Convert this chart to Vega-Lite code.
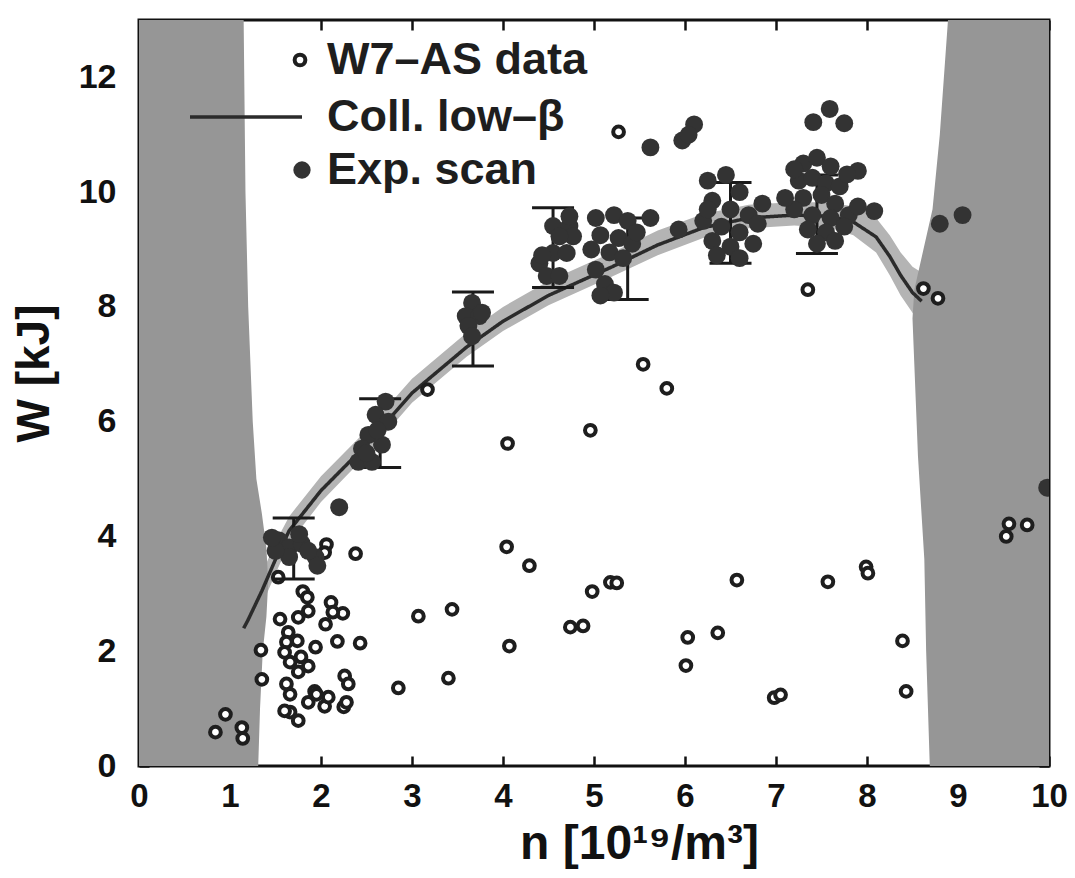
{
  "$schema": "https://vega.github.io/schema/vega-lite/v6.json",
  "width": 910,
  "height": 746,
  "autosize": {"type": "none"},
  "padding": {"left": 139, "top": 20, "right": 26, "bottom": 112},
  "background": "white",
  "config": {
    "view": {"stroke": "#111111", "strokeWidth": 3},
    "font": "Liberation Sans"
  },
  "datasets": {
    "leftband": [
      {"W": 0, "edge": 1.31}, {"W": 1.0, "edge": 1.33}, {"W": 2.0, "edge": 1.36}, {"W": 2.6, "edge": 1.4},
      {"W": 3.2, "edge": 1.42}, {"W": 3.8, "edge": 1.4}, {"W": 4.4, "edge": 1.35}, {"W": 5.0, "edge": 1.29},
      {"W": 6.0, "edge": 1.25}, {"W": 8.0, "edge": 1.2}, {"W": 10.0, "edge": 1.17}, {"W": 13.0, "edge": 1.15}
    ],
    "rightband": [
      {"W": 0, "edge": 8.69}, {"W": 2.0, "edge": 8.65}, {"W": 3.6, "edge": 8.63}, {"W": 5.4, "edge": 8.56},
      {"W": 7.0, "edge": 8.52}, {"W": 7.8, "edge": 8.5}, {"W": 8.3, "edge": 8.52}, {"W": 9.0, "edge": 8.62},
      {"W": 9.7, "edge": 8.72}, {"W": 11.0, "edge": 8.8}, {"W": 13.0, "edge": 8.89}
    ],
    "curve": [
      {"n": 1.15, "W": 2.4, "lo": 2.2, "hi": 2.7, "model": "Coll. low–β"},
      {"n": 1.2, "W": 2.55, "lo": 2.3, "hi": 2.85, "model": "Coll. low–β"},
      {"n": 1.35, "W": 3.05, "lo": 2.8, "hi": 3.35, "model": "Coll. low–β"},
      {"n": 1.5, "W": 3.6, "lo": 3.35, "hi": 3.9, "model": "Coll. low–β"},
      {"n": 1.65, "W": 4.1, "lo": 3.88, "hi": 4.35, "model": "Coll. low–β"},
      {"n": 2.0, "W": 4.8, "lo": 4.6, "hi": 5.05, "model": "Coll. low–β"},
      {"n": 2.5, "W": 5.6, "lo": 5.42, "hi": 5.85, "model": "Coll. low–β"},
      {"n": 3.0, "W": 6.5, "lo": 6.33, "hi": 6.75, "model": "Coll. low–β"},
      {"n": 3.6, "W": 7.3, "lo": 7.13, "hi": 7.55, "model": "Coll. low–β"},
      {"n": 4.0, "W": 7.75, "lo": 7.58, "hi": 8.0, "model": "Coll. low–β"},
      {"n": 4.5, "W": 8.2, "lo": 8.03, "hi": 8.45, "model": "Coll. low–β"},
      {"n": 5.2, "W": 8.7, "lo": 8.53, "hi": 8.95, "model": "Coll. low–β"},
      {"n": 5.7, "W": 9.08, "lo": 8.9, "hi": 9.33, "model": "Coll. low–β"},
      {"n": 6.2, "W": 9.38, "lo": 9.2, "hi": 9.62, "model": "Coll. low–β"},
      {"n": 6.7, "W": 9.55, "lo": 9.37, "hi": 9.78, "model": "Coll. low–β"},
      {"n": 7.2, "W": 9.6, "lo": 9.42, "hi": 9.83, "model": "Coll. low–β"},
      {"n": 7.6, "W": 9.58, "lo": 9.38, "hi": 9.82, "model": "Coll. low–β"},
      {"n": 7.85, "W": 9.48, "lo": 9.25, "hi": 9.75, "model": "Coll. low–β"},
      {"n": 8.1, "W": 9.22, "lo": 8.95, "hi": 9.55, "model": "Coll. low–β"},
      {"n": 8.25, "W": 8.88, "lo": 8.55, "hi": 9.25, "model": "Coll. low–β"},
      {"n": 8.37, "W": 8.55, "lo": 8.2, "hi": 8.95, "model": "Coll. low–β"},
      {"n": 8.5, "W": 8.25, "lo": 7.9, "hi": 8.7, "model": "Coll. low–β"},
      {"n": 8.6, "W": 8.1, "lo": 7.7, "hi": 8.6, "model": "Coll. low–β"}
    ],
    "bars": [
      {"n": 1.7, "lo": 3.26, "hi": 4.32},
      {"n": 2.65, "lo": 5.2, "hi": 6.4},
      {"n": 3.67, "lo": 6.97, "hi": 8.26},
      {"n": 4.55, "lo": 8.34, "hi": 9.73},
      {"n": 5.37, "lo": 8.13, "hi": 9.55},
      {"n": 6.5, "lo": 8.76, "hi": 10.17},
      {"n": 7.45, "lo": 8.93, "hi": 10.3}
    ],
    "w7as": [
      {"n": 0.95, "W": 0.9, "set": "W7–AS data"}, {"n": 0.84, "W": 0.59, "set": "W7–AS data"},
      {"n": 1.13, "W": 0.67, "set": "W7–AS data"}, {"n": 1.14, "W": 0.48, "set": "W7–AS data"},
      {"n": 2.38, "W": 3.7, "set": "W7–AS data"}, {"n": 2.06, "W": 3.86, "set": "W7–AS data"},
      {"n": 2.04, "W": 3.72, "set": "W7–AS data"}, {"n": 3.07, "W": 2.61, "set": "W7–AS data"},
      {"n": 3.44, "W": 2.73, "set": "W7–AS data"}, {"n": 2.85, "W": 1.36, "set": "W7–AS data"},
      {"n": 3.4, "W": 1.53, "set": "W7–AS data"}, {"n": 2.43, "W": 2.14, "set": "W7–AS data"},
      {"n": 2.18, "W": 2.17, "set": "W7–AS data"}, {"n": 1.94, "W": 2.07, "set": "W7–AS data"},
      {"n": 2.11, "W": 2.85, "set": "W7–AS data"}, {"n": 2.24, "W": 2.66, "set": "W7–AS data"},
      {"n": 2.05, "W": 2.47, "set": "W7–AS data"}, {"n": 2.13, "W": 2.68, "set": "W7–AS data"},
      {"n": 1.8, "W": 3.04, "set": "W7–AS data"}, {"n": 1.85, "W": 2.94, "set": "W7–AS data"},
      {"n": 1.86, "W": 2.7, "set": "W7–AS data"}, {"n": 1.75, "W": 2.59, "set": "W7–AS data"},
      {"n": 1.55, "W": 2.56, "set": "W7–AS data"}, {"n": 1.64, "W": 2.33, "set": "W7–AS data"},
      {"n": 1.62, "W": 2.16, "set": "W7–AS data"}, {"n": 1.74, "W": 2.18, "set": "W7–AS data"},
      {"n": 1.6, "W": 1.98, "set": "W7–AS data"}, {"n": 1.78, "W": 1.9, "set": "W7–AS data"},
      {"n": 1.86, "W": 1.74, "set": "W7–AS data"}, {"n": 1.66, "W": 1.81, "set": "W7–AS data"},
      {"n": 1.75, "W": 1.64, "set": "W7–AS data"}, {"n": 1.62, "W": 1.43, "set": "W7–AS data"},
      {"n": 1.66, "W": 1.25, "set": "W7–AS data"}, {"n": 1.34, "W": 2.02, "set": "W7–AS data"},
      {"n": 1.35, "W": 1.51, "set": "W7–AS data"}, {"n": 2.26, "W": 1.57, "set": "W7–AS data"},
      {"n": 2.3, "W": 1.43, "set": "W7–AS data"}, {"n": 2.25, "W": 1.03, "set": "W7–AS data"},
      {"n": 2.28, "W": 1.11, "set": "W7–AS data"}, {"n": 1.93, "W": 1.3, "set": "W7–AS data"},
      {"n": 2.04, "W": 1.04, "set": "W7–AS data"}, {"n": 2.08, "W": 1.2, "set": "W7–AS data"},
      {"n": 1.86, "W": 1.11, "set": "W7–AS data"}, {"n": 1.66, "W": 0.94, "set": "W7–AS data"},
      {"n": 1.75, "W": 0.79, "set": "W7–AS data"}, {"n": 1.6, "W": 0.96, "set": "W7–AS data"},
      {"n": 1.95, "W": 1.25, "set": "W7–AS data"}, {"n": 1.53, "W": 3.29, "set": "W7–AS data"},
      {"n": 3.17, "W": 6.56, "set": "W7–AS data"}, {"n": 4.05, "W": 5.62, "set": "W7–AS data"},
      {"n": 4.96, "W": 5.85, "set": "W7–AS data"}, {"n": 5.54, "W": 7.0, "set": "W7–AS data"},
      {"n": 5.8, "W": 6.58, "set": "W7–AS data"}, {"n": 4.04, "W": 3.82, "set": "W7–AS data"},
      {"n": 4.29, "W": 3.49, "set": "W7–AS data"}, {"n": 4.98, "W": 3.04, "set": "W7–AS data"},
      {"n": 5.18, "W": 3.2, "set": "W7–AS data"}, {"n": 5.25, "W": 3.19, "set": "W7–AS data"},
      {"n": 4.07, "W": 2.09, "set": "W7–AS data"}, {"n": 4.74, "W": 2.42, "set": "W7–AS data"},
      {"n": 4.88, "W": 2.44, "set": "W7–AS data"}, {"n": 6.03, "W": 2.24, "set": "W7–AS data"},
      {"n": 6.01, "W": 1.75, "set": "W7–AS data"}, {"n": 6.36, "W": 2.32, "set": "W7–AS data"},
      {"n": 6.57, "W": 3.24, "set": "W7–AS data"}, {"n": 6.98, "W": 1.19, "set": "W7–AS data"},
      {"n": 7.05, "W": 1.24, "set": "W7–AS data"}, {"n": 7.57, "W": 3.21, "set": "W7–AS data"},
      {"n": 7.99, "W": 3.47, "set": "W7–AS data"}, {"n": 8.01, "W": 3.36, "set": "W7–AS data"},
      {"n": 8.39, "W": 2.18, "set": "W7–AS data"}, {"n": 8.43, "W": 1.3, "set": "W7–AS data"},
      {"n": 7.35, "W": 8.3, "set": "W7–AS data"}, {"n": 8.62, "W": 8.32, "set": "W7–AS data"},
      {"n": 8.78, "W": 8.15, "set": "W7–AS data"}, {"n": 5.27, "W": 11.05, "set": "W7–AS data"},
      {"n": 9.56, "W": 4.22, "set": "W7–AS data"}, {"n": 9.76, "W": 4.2, "set": "W7–AS data"},
      {"n": 9.53, "W": 4.0, "set": "W7–AS data"}
    ],
    "scan": [
      {"n": 1.54, "W": 3.93, "kind": "Exp. scan"}, {"n": 1.65, "W": 3.81, "kind": "Exp. scan"},
      {"n": 1.79, "W": 3.87, "kind": "Exp. scan"}, {"n": 1.94, "W": 3.64, "kind": "Exp. scan"},
      {"n": 1.96, "W": 3.49, "kind": "Exp. scan"}, {"n": 1.65, "W": 3.64, "kind": "Exp. scan"},
      {"n": 1.5, "W": 3.75, "kind": "Exp. scan"}, {"n": 1.76, "W": 4.04, "kind": "Exp. scan"},
      {"n": 1.46, "W": 3.98, "kind": "Exp. scan"}, {"n": 1.86, "W": 3.75, "kind": "Exp. scan"},
      {"n": 2.2, "W": 4.51, "kind": "Exp. scan"},
      {"n": 2.71, "W": 6.35, "kind": "Exp. scan"}, {"n": 2.6, "W": 6.12, "kind": "Exp. scan"},
      {"n": 2.74, "W": 6.0, "kind": "Exp. scan"}, {"n": 2.52, "W": 5.77, "kind": "Exp. scan"},
      {"n": 2.67, "W": 5.6, "kind": "Exp. scan"}, {"n": 2.45, "W": 5.53, "kind": "Exp. scan"},
      {"n": 2.41, "W": 5.3, "kind": "Exp. scan"}, {"n": 2.56, "W": 5.3, "kind": "Exp. scan"},
      {"n": 2.62, "W": 5.85, "kind": "Exp. scan"}, {"n": 2.5, "W": 5.45, "kind": "Exp. scan"},
      {"n": 3.66, "W": 8.07, "kind": "Exp. scan"}, {"n": 3.59, "W": 7.84, "kind": "Exp. scan"},
      {"n": 3.74, "W": 7.84, "kind": "Exp. scan"}, {"n": 3.62, "W": 7.67, "kind": "Exp. scan"},
      {"n": 3.66, "W": 7.49, "kind": "Exp. scan"}, {"n": 3.77, "W": 7.9, "kind": "Exp. scan"},
      {"n": 4.55, "W": 9.41, "kind": "Exp. scan"}, {"n": 4.73, "W": 9.41, "kind": "Exp. scan"},
      {"n": 4.77, "W": 9.23, "kind": "Exp. scan"}, {"n": 4.55, "W": 8.94, "kind": "Exp. scan"},
      {"n": 4.7, "W": 8.94, "kind": "Exp. scan"}, {"n": 4.4, "W": 8.76, "kind": "Exp. scan"},
      {"n": 4.48, "W": 8.54, "kind": "Exp. scan"}, {"n": 4.62, "W": 8.54, "kind": "Exp. scan"},
      {"n": 4.73, "W": 9.58, "kind": "Exp. scan"}, {"n": 4.62, "W": 9.23, "kind": "Exp. scan"},
      {"n": 4.43, "W": 8.9, "kind": "Exp. scan"},
      {"n": 5.02, "W": 9.55, "kind": "Exp. scan"}, {"n": 5.22, "W": 9.6, "kind": "Exp. scan"},
      {"n": 5.37, "W": 9.5, "kind": "Exp. scan"}, {"n": 5.07, "W": 9.25, "kind": "Exp. scan"},
      {"n": 5.27, "W": 9.2, "kind": "Exp. scan"}, {"n": 4.97, "W": 9.0, "kind": "Exp. scan"},
      {"n": 5.17, "W": 8.95, "kind": "Exp. scan"}, {"n": 5.42, "W": 9.1, "kind": "Exp. scan"},
      {"n": 5.02, "W": 8.65, "kind": "Exp. scan"}, {"n": 5.12, "W": 8.4, "kind": "Exp. scan"},
      {"n": 5.22, "W": 8.25, "kind": "Exp. scan"}, {"n": 5.07, "W": 8.2, "kind": "Exp. scan"},
      {"n": 5.32, "W": 8.85, "kind": "Exp. scan"}, {"n": 5.47, "W": 9.3, "kind": "Exp. scan"},
      {"n": 5.62, "W": 9.55, "kind": "Exp. scan"}, {"n": 5.93, "W": 9.35, "kind": "Exp. scan"},
      {"n": 6.25, "W": 10.2, "kind": "Exp. scan"}, {"n": 6.45, "W": 10.3, "kind": "Exp. scan"},
      {"n": 6.6, "W": 10.0, "kind": "Exp. scan"}, {"n": 6.3, "W": 9.85, "kind": "Exp. scan"},
      {"n": 6.5, "W": 9.7, "kind": "Exp. scan"}, {"n": 6.7, "W": 9.6, "kind": "Exp. scan"},
      {"n": 6.2, "W": 9.5, "kind": "Exp. scan"}, {"n": 6.4, "W": 9.4, "kind": "Exp. scan"},
      {"n": 6.6, "W": 9.3, "kind": "Exp. scan"}, {"n": 6.8, "W": 9.45, "kind": "Exp. scan"},
      {"n": 6.3, "W": 9.15, "kind": "Exp. scan"}, {"n": 6.5, "W": 9.05, "kind": "Exp. scan"},
      {"n": 6.75, "W": 9.1, "kind": "Exp. scan"}, {"n": 6.35, "W": 8.9, "kind": "Exp. scan"},
      {"n": 6.6, "W": 8.85, "kind": "Exp. scan"}, {"n": 6.25, "W": 9.7, "kind": "Exp. scan"},
      {"n": 6.85, "W": 9.8, "kind": "Exp. scan"},
      {"n": 5.62, "W": 10.78, "kind": "Exp. scan"}, {"n": 5.97, "W": 10.9, "kind": "Exp. scan"},
      {"n": 6.1, "W": 11.18, "kind": "Exp. scan"}, {"n": 6.04, "W": 11.0, "kind": "Exp. scan"},
      {"n": 7.3, "W": 10.5, "kind": "Exp. scan"}, {"n": 7.45, "W": 10.6, "kind": "Exp. scan"},
      {"n": 7.6, "W": 10.45, "kind": "Exp. scan"}, {"n": 7.25, "W": 10.2, "kind": "Exp. scan"},
      {"n": 7.4, "W": 10.25, "kind": "Exp. scan"}, {"n": 7.55, "W": 10.15, "kind": "Exp. scan"},
      {"n": 7.7, "W": 10.1, "kind": "Exp. scan"}, {"n": 7.3, "W": 9.9, "kind": "Exp. scan"},
      {"n": 7.5, "W": 9.95, "kind": "Exp. scan"}, {"n": 7.65, "W": 9.8, "kind": "Exp. scan"},
      {"n": 7.2, "W": 9.7, "kind": "Exp. scan"}, {"n": 7.4, "W": 9.6, "kind": "Exp. scan"},
      {"n": 7.6, "W": 9.55, "kind": "Exp. scan"}, {"n": 7.8, "W": 9.6, "kind": "Exp. scan"},
      {"n": 7.35, "W": 9.35, "kind": "Exp. scan"}, {"n": 7.55, "W": 9.3, "kind": "Exp. scan"},
      {"n": 7.75, "W": 9.4, "kind": "Exp. scan"}, {"n": 7.45, "W": 9.1, "kind": "Exp. scan"},
      {"n": 7.65, "W": 9.15, "kind": "Exp. scan"}, {"n": 7.9, "W": 9.75, "kind": "Exp. scan"},
      {"n": 7.1, "W": 9.9, "kind": "Exp. scan"}, {"n": 7.2, "W": 10.4, "kind": "Exp. scan"},
      {"n": 7.9, "W": 10.37, "kind": "Exp. scan"}, {"n": 7.78, "W": 10.31, "kind": "Exp. scan"},
      {"n": 8.08, "W": 9.67, "kind": "Exp. scan"},
      {"n": 7.59, "W": 11.45, "kind": "Exp. scan"}, {"n": 7.41, "W": 11.22, "kind": "Exp. scan"},
      {"n": 7.75, "W": 11.2, "kind": "Exp. scan"},
      {"n": 8.8, "W": 9.45, "kind": "Exp. scan"}, {"n": 9.05, "W": 9.6, "kind": "Exp. scan"},
      {"n": 9.98, "W": 4.85, "kind": "Exp. scan"}
    ]
  },
  "resolve": {"axis": {"x": "independent", "y": "independent"}},
  "layer": [
    {
      "data": {"name": "curve"},
      "mark": {"type": "area", "color": "#b4b4b4", "clip": true},
      "encoding": {
        "x": {"field": "n", "type": "quantitative", "scale": {"domain": [0, 10], "nice": false, "zero": false}, "axis": null},
        "y": {"field": "lo", "type": "quantitative", "scale": {"domain": [0, 13], "nice": false, "zero": false}, "axis": null},
        "y2": {"field": "hi"}
      }
    },
    {
      "data": {"name": "leftband"},
      "mark": {"type": "area", "orient": "horizontal", "color": "#969696", "clip": true},
      "encoding": {
        "y": {"field": "W", "type": "quantitative", "scale": {"domain": [0, 13], "nice": false, "zero": false}, "axis": null},
        "x": {"field": "edge", "type": "quantitative", "scale": {"domain": [0, 10], "nice": false, "zero": false}, "axis": null},
        "x2": {"datum": 0}
      }
    },
    {
      "data": {"name": "rightband"},
      "mark": {"type": "area", "orient": "horizontal", "color": "#969696", "clip": true},
      "encoding": {
        "y": {"field": "W", "type": "quantitative", "scale": {"domain": [0, 13], "nice": false, "zero": false}, "axis": null},
        "x": {"field": "edge", "type": "quantitative", "scale": {"domain": [0, 10], "nice": false, "zero": false}, "axis": null},
        "x2": {"datum": 10}
      }
    },
    {
      "data": {"name": "curve"},
      "mark": {"type": "line", "color": "#2b2b2b", "strokeWidth": 3.5, "clip": true},
      "encoding": {
        "x": {"field": "n", "type": "quantitative", "scale": {"domain": [0, 10], "nice": false, "zero": false}, "axis": null},
        "y": {"field": "W", "type": "quantitative", "scale": {"domain": [0, 13], "nice": false, "zero": false}, "axis": null},
        "strokeDash": {
          "field": "model", "type": "nominal",
          "scale": {"domain": ["Coll. low–β"], "range": [[1, 0]]},
          "legend": {
            "title": null, "orient": "none", "legendX": 49, "legendY": 39,
            "symbolType": "stroke", "symbolSize": 12544, "symbolStrokeWidth": 3.5,
            "labelFont": "Liberation Sans", "labelFontSize": 45, "labelFontWeight": "bold",
            "labelColor": "#1e1e1e", "labelOffset": 23, "labelLimit": 600
          }
        }
      }
    },
    {
      "data": {"name": "w7as"},
      "mark": {"type": "point", "fill": "white", "strokeWidth": 4, "size": 115, "opacity": 1, "clip": true},
      "encoding": {
        "x": {
          "field": "n", "type": "quantitative", "scale": {"domain": [0, 10], "nice": false, "zero": false},
          "axis": {
            "orient": "bottom", "values": [0, 1, 2, 3, 4, 5, 6, 7, 8, 9, 10], "grid": false, "domain": false,
            "tickSize": -10, "tickWidth": 2.5, "tickColor": "#111111",
            "labelPadding": 24, "labelFont": "Liberation Sans", "labelFontSize": 33, "labelFontWeight": "bold",
            "labelColor": "#111111", "labelFlush": false, "labelOverlap": false,
            "title": "n [10¹⁹/m³]", "titleFont": "Liberation Sans", "titleFontSize": 48, "titleFontWeight": "bold",
            "titleColor": "#111111", "titleX": 500, "titleY": 54, "titleBaseline": "top", "titleAlign": "center"
          }
        },
        "y": {
          "field": "W", "type": "quantitative", "scale": {"domain": [0, 13], "nice": false, "zero": false},
          "axis": {
            "orient": "left", "values": [0, 2, 4, 6, 8, 10, 12], "grid": false, "domain": false,
            "tickSize": -10, "tickWidth": 2.5, "tickColor": "#111111",
            "labelPadding": 33, "labelFont": "Liberation Sans", "labelFontSize": 34, "labelFontWeight": "bold",
            "labelColor": "#111111", "labelFlush": false, "labelOverlap": false,
            "title": "W [kJ]", "titleFont": "Liberation Sans", "titleFontSize": 46, "titleFontWeight": "bold",
            "titleColor": "#111111", "titlePadding": 20, "titleY": 353
          }
        },
        "stroke": {
          "field": "set", "type": "nominal",
          "scale": {"domain": ["W7–AS data"], "range": ["#1e1e1e"]},
          "legend": {
            "title": null, "orient": "none", "legendX": 138.5, "legendY": 17.5,
            "symbolType": "circle", "symbolSize": 115, "symbolStrokeWidth": 4, "symbolFillColor": "white",
            "labelFont": "Liberation Sans", "labelFontSize": 45, "labelFontWeight": "bold",
            "labelColor": "#1e1e1e", "labelOffset": 4.5, "labelLimit": 600
          }
        }
      }
    },
    {
      "data": {"name": "bars"},
      "mark": {"type": "rule", "color": "#1a1a1a", "strokeWidth": 3, "clip": true},
      "encoding": {
        "x": {
          "field": "n", "type": "quantitative", "scale": {"domain": [0, 10], "nice": false, "zero": false},
          "axis": {"orient": "top", "values": [0, 1, 2, 3, 4, 5, 6, 7, 8, 9, 10], "grid": false, "domain": false, "labels": false, "title": null, "tickSize": -10, "tickWidth": 2.5, "tickColor": "#111111"}
        },
        "y": {
          "field": "lo", "type": "quantitative", "scale": {"domain": [0, 13], "nice": false, "zero": false},
          "axis": {"orient": "right", "values": [0, 2, 4, 6, 8, 10, 12], "grid": false, "domain": false, "labels": false, "title": null, "tickSize": -10, "tickWidth": 2.5, "tickColor": "#111111"}
        },
        "y2": {"field": "hi"}
      }
    },
    {
      "data": {"name": "bars"},
      "mark": {"type": "tick", "orient": "horizontal", "color": "#1a1a1a", "size": 42, "thickness": 3, "opacity": 1, "clip": true},
      "encoding": {
        "x": {"field": "n", "type": "quantitative", "scale": {"domain": [0, 10], "nice": false, "zero": false}, "axis": null},
        "y": {"field": "lo", "type": "quantitative", "scale": {"domain": [0, 13], "nice": false, "zero": false}, "axis": null}
      }
    },
    {
      "data": {"name": "bars"},
      "mark": {"type": "tick", "orient": "horizontal", "color": "#1a1a1a", "size": 42, "thickness": 3, "opacity": 1, "clip": true},
      "encoding": {
        "x": {"field": "n", "type": "quantitative", "scale": {"domain": [0, 10], "nice": false, "zero": false}, "axis": null},
        "y": {"field": "hi", "type": "quantitative", "scale": {"domain": [0, 13], "nice": false, "zero": false}, "axis": null}
      }
    },
    {
      "data": {"name": "scan"},
      "mark": {"type": "point", "filled": true, "size": 320, "opacity": 1, "clip": true},
      "encoding": {
        "x": {"field": "n", "type": "quantitative", "scale": {"domain": [0, 10], "nice": false, "zero": false}, "axis": null},
        "y": {"field": "W", "type": "quantitative", "scale": {"domain": [0, 13], "nice": false, "zero": false}, "axis": null},
        "color": {
          "field": "kind", "type": "nominal",
          "scale": {"domain": ["Exp. scan"], "range": ["#333333"]},
          "legend": {
            "title": null, "orient": "none", "legendX": 140.5, "legendY": 127.5,
            "symbolType": "circle", "symbolSize": 300, "symbolStrokeWidth": 0,
            "labelFont": "Liberation Sans", "labelFontSize": 45, "labelFontWeight": "bold",
            "labelColor": "#1e1e1e", "labelOffset": 2.5, "labelLimit": 600
          }
        }
      }
    }
  ]
}
